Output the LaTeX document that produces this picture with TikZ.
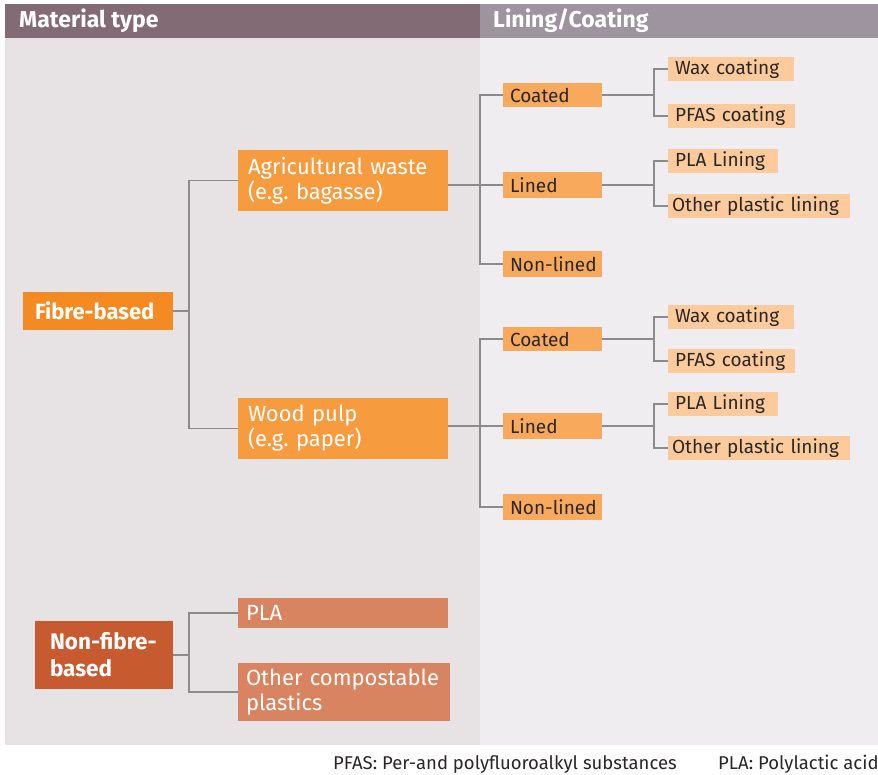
\documentclass[tikz,border=0pt]{standalone}
\usepackage{fontspec}
\setmainfont{Fira Sans}
\frenchspacing
\definecolor{hdrL}{HTML}{836B75}
\definecolor{hdrR}{HTML}{9D949F}
\definecolor{panL}{HTML}{E7E3E5}
\definecolor{panR}{HTML}{EFEDF0}
\definecolor{cFib}{HTML}{F38B22}
\definecolor{cMid}{HTML}{F79B3F}
\definecolor{cLin}{HTML}{F9A95B}
\definecolor{cLeaf}{HTML}{FDCB9B}
\definecolor{cNon}{HTML}{C85A2F}
\definecolor{cNonMid}{HTML}{D88460}
\definecolor{lineg}{HTML}{8C8A8C}
\definecolor{txtd}{HTML}{2A2626}
\newcommand\mybox[8]{%
  \pgfmathsetmacro\bw{#5-#3}\pgfmathsetmacro\bh{#6-#4}\pgfmathsetmacro\tw{#5-#3-2*#7}%
  \node[#2, inner sep=0pt, outer sep=0pt, minimum width=\bw pt, minimum height=\bh pt,
        text width=\tw pt, align=left, anchor=north west] (#1) at (#3,#4) {#8};}
\begin{document}
\begin{tikzpicture}[x=1pt,y=-1pt,
  conn/.style={draw=lineg, line width=1.1pt},
  hdr/.style={anchor=west, inner sep=0pt, text=white, font=\fontsize{23}{26}\selectfont\bfseries},
  fibst/.style={fill=cFib, text=white, font=\fontsize{22}{26}\selectfont\bfseries},
  midst/.style={fill=cMid, text=white, font=\fontsize{22}{25}\selectfont},
  linst/.style={fill=cLin, text=txtd, font=\fontsize{19}{22}\selectfont},
  leafst/.style={fill=cLeaf, text=txtd, font=\fontsize{19}{22}\selectfont},
  nonst/.style={fill=cNon, text=white, font=\fontsize{22.5}{27}\selectfont\bfseries},
  nonmidst/.style={fill=cNonMid, text=white, font=\fontsize{22}{25}\selectfont},
  foot/.style={anchor=base west, inner sep=0pt, text=txtd, font=\fontsize{18.5}{21}\selectfont}]
\useasboundingbox (0,0) rectangle (878,775);
% backgrounds
\fill[hdrL] (5,4) rectangle (480,38);
\fill[hdrR] (480,4) rectangle (878,38);
\fill[panL] (5,38) rectangle (480,745);
\fill[panR] (480,38) rectangle (878,745);
\node[hdr] (h1) at (19,21) {Material type};
\node[hdr] (h2) at (493,21) {Lining/Coating};
% bus coordinates
\coordinate (b1) at (189,0);
\coordinate (b2) at (480,0);
\coordinate (b3) at (654,0);
% level 1
\mybox{fib}{fibst}{23}{292}{173}{330}{12}{\mbox{Fibre-based}}
\mybox{nonfib}{nonst}{35}{621}{173}{689}{15}{Non-fibre-\\based}
% level 2
\mybox{agri}{midst}{238}{150}{448}{211}{10}{Agricultural waste\\(e.g. bagasse)}
\mybox{wood}{midst}{238}{398}{448}{459}{10}{Wood pulp\\(e.g. paper)}
\mybox{pla}{nonmidst}{238}{598}{448}{628}{8}{PLA}
\mybox{ocp}{nonmidst}{238}{663}{450}{721}{8}{Other compostable\\plastics}
% level 3, group A
\mybox{coatA}{linst}{503}{83}{602}{107}{7}{\mbox{Coated}}
\mybox{linA}{linst}{503}{172}{602}{198}{7}{\mbox{Lined}}
\mybox{nonA}{linst}{503}{251}{602}{277}{7}{\mbox{Non-lined}}
\mybox{waxA}{leafst}{668}{57}{794}{81}{7}{\mbox{Wax coating}}
\mybox{pfasA}{leafst}{668}{104}{795}{128}{7}{\mbox{PFAS coating}}
\mybox{plaA}{leafst}{668}{149}{778}{173}{7}{\mbox{PLA Lining}}
\mybox{othA}{leafst}{668}{194}{850}{218}{4}{\mbox{Other plastic lining}}
% level 3, group B
\mybox{coatB}{linst}{503}{327}{602}{351}{7}{\mbox{Coated}}
\mybox{linB}{linst}{503}{413}{602}{439}{7}{\mbox{Lined}}
\mybox{nonB}{linst}{503}{494}{602}{520}{7}{\mbox{Non-lined}}
\mybox{waxB}{leafst}{668}{305}{794}{329}{7}{\mbox{Wax coating}}
\mybox{pfasB}{leafst}{668}{349}{795}{373}{7}{\mbox{PFAS coating}}
\mybox{plaB}{leafst}{668}{392}{778}{416}{7}{\mbox{PLA Lining}}
\mybox{othB}{leafst}{668}{436}{850}{460}{4}{\mbox{Other plastic lining}}
% connectors: fibre
\draw[conn] (fib.east) -- (fib.east -| b1);
\draw[conn] (agri.west) -- (agri.west -| b1) -- (wood.west -| b1) -- (wood.west);
% non-fibre
\draw[conn] (nonfib.east) -- (nonfib.east -| b1);
\draw[conn] (pla.west) -- (pla.west -| b1) -- (ocp.west -| b1) -- (ocp.west);
% agri group
\draw[conn] (agri.east |- linA.west) -- (linA.west);
\draw[conn] (coatA.west) -- (coatA.west -| b2) -- (nonA.west -| b2) -- (nonA.west);
\draw[conn] (coatA.east) -- (coatA.east -| b3);
\draw[conn] (waxA.west) -- (waxA.west -| b3) -- (pfasA.west -| b3) -- (pfasA.west);
\draw[conn] (linA.east) -- (linA.east -| b3);
\draw[conn] (plaA.west) -- (plaA.west -| b3) -- (othA.west -| b3) -- (othA.west);
% wood group
\draw[conn] (wood.east |- linB.west) -- (linB.west);
\draw[conn] (coatB.west) -- (coatB.west -| b2) -- (nonB.west -| b2) -- (nonB.west);
\draw[conn] (coatB.east) -- (coatB.east -| b3);
\draw[conn] (waxB.west) -- (waxB.west -| b3) -- (pfasB.west -| b3) -- (pfasB.west);
\draw[conn] (linB.east) -- (linB.east -| b3);
\draw[conn] (plaB.west) -- (plaB.west -| b3) -- (othB.west -| b3) -- (othB.west);
% footer
\node[foot] (f1) at (333,769) {PFAS: Per-and polyfluoroalkyl substances};
\node[foot] (f2) at (718,769) {PLA: Polylactic acid};
\end{tikzpicture}
\end{document}
